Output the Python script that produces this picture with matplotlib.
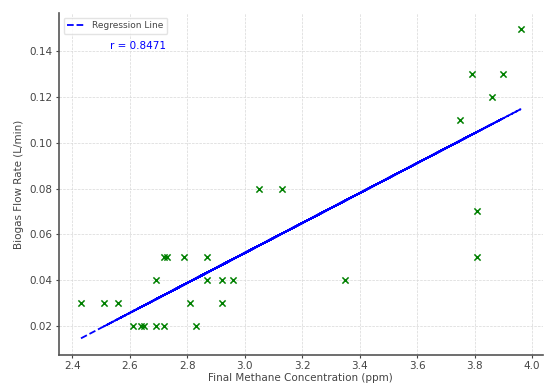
import numpy as np
import matplotlib
matplotlib.use("Agg")
import matplotlib.pyplot as plt

# Data (unsorted order, as plotted)
methane = [2.43, 3.35, 2.51, 3.81, 2.56, 3.05, 2.61, 3.96, 2.64, 3.75, 2.65,
           3.13, 2.69, 3.79, 2.72, 3.86, 2.83, 3.90, 2.69, 3.81, 2.87, 2.92,
           2.96, 2.72, 2.73, 2.79, 2.87, 2.81, 2.92]
flow = [0.03, 0.04, 0.03, 0.05, 0.03, 0.08, 0.02, 0.15, 0.02, 0.11, 0.02,
        0.08, 0.02, 0.13, 0.02, 0.12, 0.02, 0.13, 0.04, 0.07, 0.04, 0.04,
        0.04, 0.05, 0.05, 0.05, 0.05, 0.03, 0.03]
r_label = "r = 0.8471"
x_label = "Final Methane Concentration (ppm)"
y_label = "Biogas Flow Rate (L/min)"
legend_label = "Regression Line"

x = np.array(methane)
y = np.array(flow)
slope, intercept = np.polyfit(x, y, 1)

fig = plt.figure(figsize=(5.44, 3.85), dpi=100)
ax = fig.add_axes([59/544, 30/385, 483.5/544, 342/385])

ax.scatter(x, y, marker='x', color='green', s=20, linewidths=1.1, zorder=3)
ax.plot(x, slope * x + intercept, linestyle='--', color='blue', linewidth=1.3,
        label=legend_label, zorder=2)

ax.set_xlim(2.3535, 4.0365)
ax.set_ylim(0.0072, 0.1568)
ax.set_xticks([2.4, 2.6, 2.8, 3.0, 3.2, 3.4, 3.6, 3.8, 4.0])
ax.set_yticks([0.02, 0.04, 0.06, 0.08, 0.10, 0.12, 0.14])
ax.xaxis.set_major_formatter(matplotlib.ticker.FormatStrFormatter('%.1f'))
ax.yaxis.set_major_formatter(matplotlib.ticker.FormatStrFormatter('%.2f'))

ax.grid(True, linestyle='--', color='#d8d8d8', linewidth=0.5)
ax.set_axisbelow(True)
for s in ['top', 'right']:
    ax.spines[s].set_visible(False)
for s in ['left', 'bottom']:
    ax.spines[s].set_color('#555555')
    ax.spines[s].set_linewidth(1.2)

ax.tick_params(labelsize=7.5, colors='#444444', length=2.5, width=0.8, pad=2)
ax.set_xlabel(x_label, fontsize=7.5, color='#444444', labelpad=1)
ax.set_ylabel(y_label, fontsize=7.5, color='#444444', labelpad=4)

leg = ax.legend(loc='upper left', fontsize=6.5, frameon=True, fancybox=True,
                handlelength=2, borderpad=0.4, bbox_to_anchor=(0.0, 1.0))
leg.get_frame().set_edgecolor('#dddddd')
for t in leg.get_texts():
    t.set_color('#444444')

ax.text(0.106, 0.903, r_label, transform=ax.transAxes, color='blue',
        fontsize=7.5, ha='left', va='center')

fig.savefig("out.png", dpi=100)
